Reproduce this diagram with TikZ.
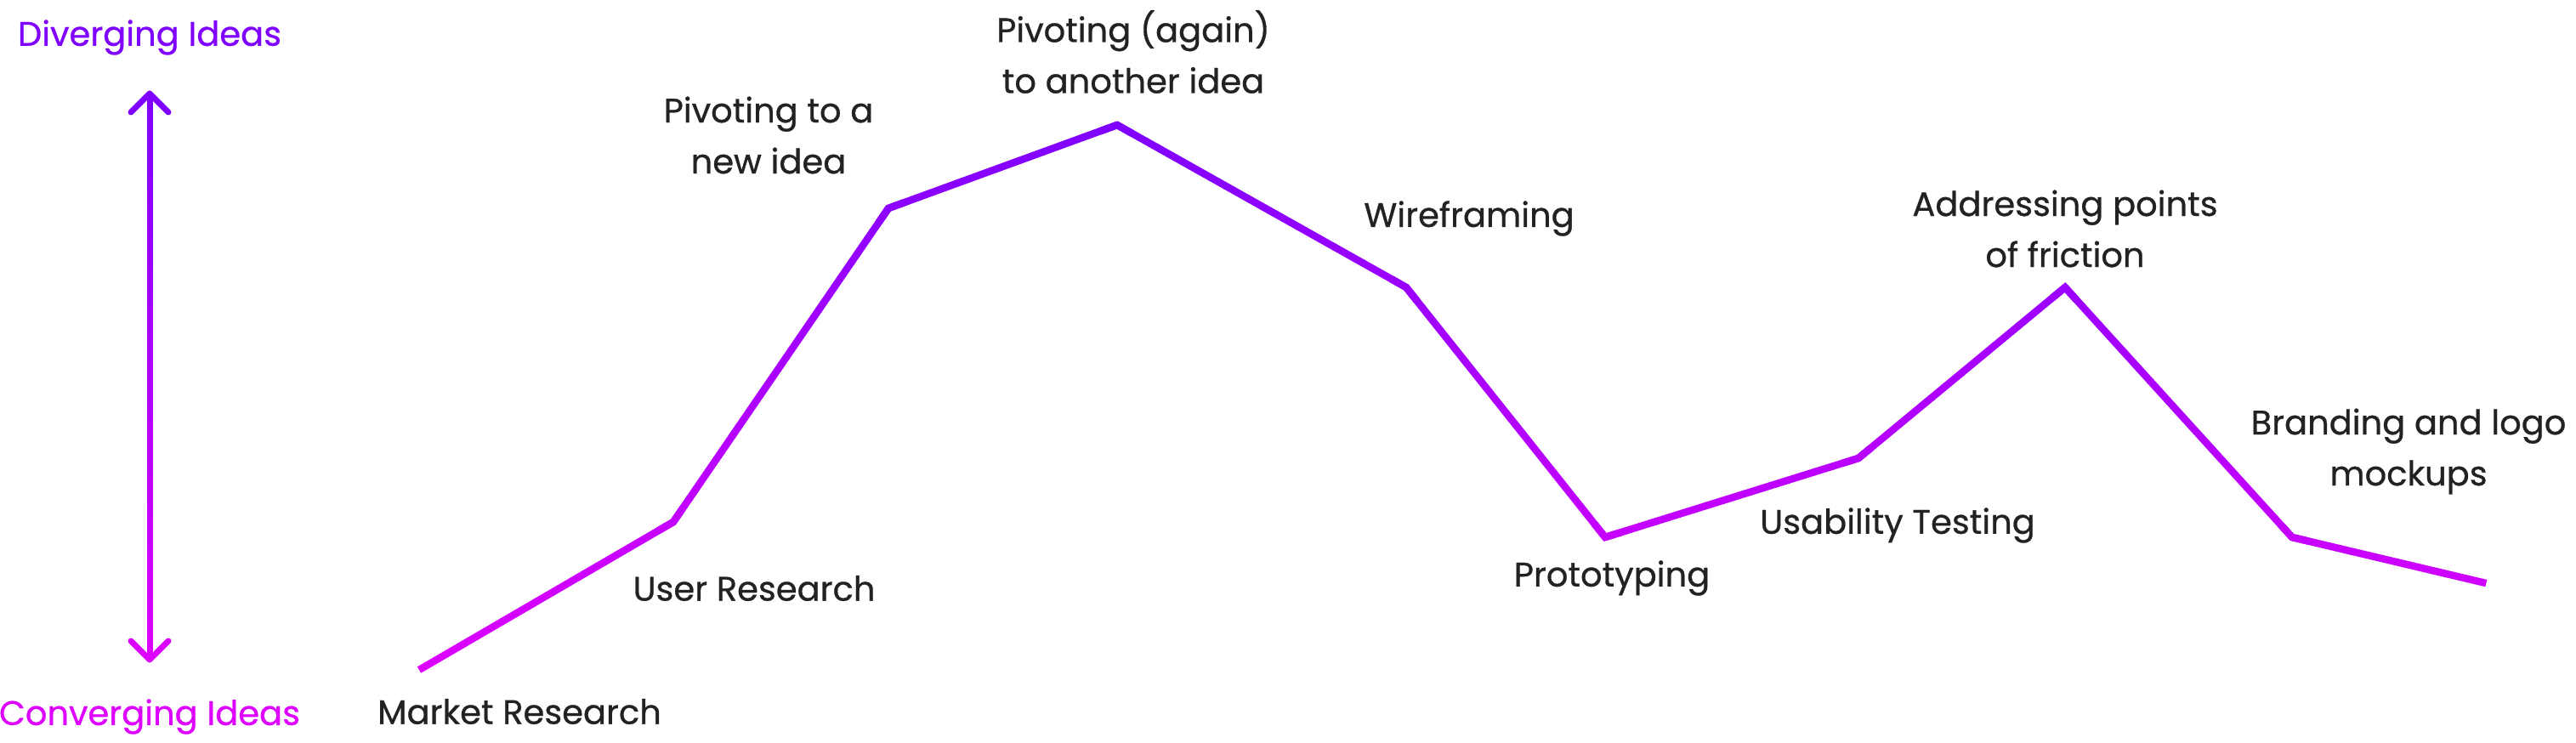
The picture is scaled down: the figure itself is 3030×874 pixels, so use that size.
\documentclass[tikz,border=0pt]{standalone}
\usepackage{fontspec}
\setmainfont{Poppins}
\newfontfamily\lblfont{Poppins}[FakeBold=0.7]
\usetikzlibrary{calc}
\definecolor{topPurple}{HTML}{7F00FF}
\definecolor{botMagenta}{HTML}{DE00FF}
\definecolor{ink}{HTML}{222222}
\tikzset{
  lbl/.style={text=ink, align=center, font=\lblfont\fontsize{40}{60}\selectfont, inner sep=0pt},
  curve/.style={line width=8.5pt, line cap=butt},
  corner/.style={line width=8.5pt, line join=miter},
  shaft/.style={line width=7pt, line cap=butt},
  head/.style={line width=7pt, line cap=round, line join=round}
}
\begin{document}
\begin{tikzpicture}[x=1pt,y=-1pt]
\useasboundingbox (0,0) rectangle (3030,874);
% points of the curve
\coordinate (p0) at (493,788);
\coordinate (p1) at (792,614);
\coordinate (p2) at (1045,245);
\coordinate (p3) at (1314,147);
\coordinate (p4) at (1654,338);
\coordinate (p5) at (1888,632);
\coordinate (p6) at (2186,539);
\coordinate (p7) at (2429,338);
\coordinate (p8) at (2696,632);
\coordinate (p9) at (2924,686);
% corners (miter tips in the local colour)
\foreach \ax/\ay/\cx/\cy/\bx/\by in {493/788/792/614/1045/245, 792/614/1045/245/1314/147, 1045/245/1314/147/1654/338, 1314/147/1654/338/1888/632, 1654/338/1888/632/2186/539, 1888/632/2186/539/2429/338, 2186/539/2429/338/2696/632, 2429/338/2696/632/2924/686}{
  \pgfmathtruncatemacro\t{round(((\cy-147)/641)*100)}
  \draw[corner, color=botMagenta!\t!topPurple] ($(\cx,\cy)!20pt!(\ax,\ay)$) -- (\cx,\cy) -- ($(\cx,\cy)!20pt!(\bx,\by)$);
}
% graded segments
\foreach \ax/\ay/\bx/\by in {493/788/792/614, 792/614/1045/245, 1045/245/1314/147, 1314/147/1654/338, 1654/338/1888/632, 1888/632/2186/539, 2186/539/2429/338, 2429/338/2696/632, 2696/632/2924/686}{
  \foreach \i in {0,...,39}{
    \pgfmathsetmacro\xa{\ax+(\bx-\ax)/40*\i}
    \pgfmathsetmacro\ya{\ay+(\by-\ay)/40*\i}
    \pgfmathsetmacro\xb{\ax+(\bx-\ax)/40*(\i+1.06)}
    \pgfmathsetmacro\yb{\ay+(\by-\ay)/40*(\i+1.06)}
    \pgfmathtruncatemacro\t{round((((\ya+\yb)/2-147)/641)*100)}
    \draw[curve, color=botMagenta!\t!topPurple] (\xa,\ya) -- (\xb,\yb);
  }
}
% axis arrow
\coordinate (atop) at (176,110);
\coordinate (abot) at (176,776);
\foreach \i in {0,...,39}{
  \pgfmathsetmacro\ya{110+666/40*\i}
  \pgfmathsetmacro\yb{110+666/40*(\i+1.06)}
  \pgfmathtruncatemacro\t{round((((\ya+\yb)/2-110)/666)*100)}
  \draw[shaft, color=botMagenta!\t!topPurple] (176,\ya) -- (176,\yb);
}
\draw[head, topPurple] ([shift={(-22pt,-22pt)}]atop) -- (atop) -- ([shift={(22pt,-22pt)}]atop);
\draw[head, botMagenta] ([shift={(-22pt,22pt)}]abot) -- (abot) -- ([shift={(22pt,22pt)}]abot);
% axis labels
\node[lbl, text=topPurple] (div) at (176,44) {Diverging Ideas};
\node[lbl, text=botMagenta] (conv) at (176,843) {Converging Ideas};
% stage labels
\node[lbl] (l0) at (611,837) {Market Research};
\node[lbl] (l1) at (887,692) {User Research};
\node[lbl] (l2) at (904,159) {Pivoting to a\\new idea};
\node[lbl] (l3) at (1333,61) {Pivoting (again)\\to another idea};
\node[lbl] (l4) at (1728,257) {Wireframing};
\node[lbl] (l5) at (1896,680) {Prototyping};
\node[lbl] (l6) at (2232,618) {Usability Testing};
\node[lbl] (l7) at (2429,269) {Addressing points\\of friction};
\node[lbl] (l8) at (2833,531) {Branding and logo\\mockups};
\end{tikzpicture}
\end{document}
